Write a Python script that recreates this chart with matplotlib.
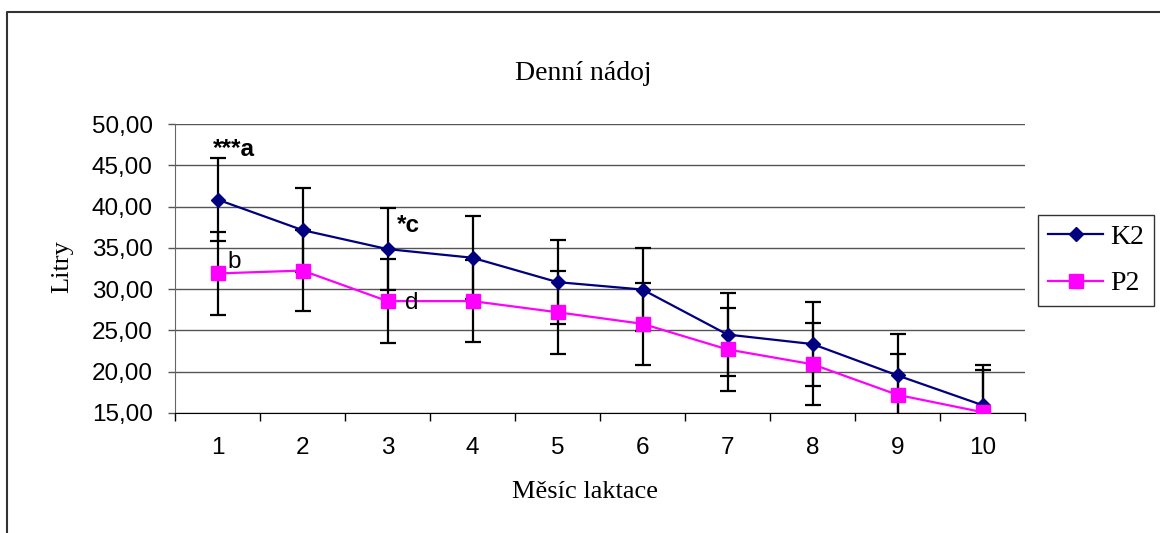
import matplotlib
matplotlib.use('Agg')
import matplotlib.pyplot as plt
from matplotlib.lines import Line2D
from matplotlib.ticker import FuncFormatter

# ---------------------------------------------------------
# DATA
# ---------------------------------------------------------
months = [1, 2, 3, 4, 5, 6, 7, 8, 9, 10]
k2_mean = [40.85, 37.15, 34.85, 33.8, 30.85, 29.95, 24.5, 23.35, 19.55, 15.95]
k2_err = [5.0, 5.05, 4.95, 5.0, 5.05, 5.0, 5.0, 5.05, 5.0, 4.85]
p2_mean = [31.9, 32.25, 28.55, 28.55, 27.2, 25.8, 22.7, 20.9, 17.2, 15.1]
p2_err = [5.05, 4.9, 5.05, 5.0, 5.0, 5.0, 5.05, 4.95, 5.0, 5.1]

# significance marks: (text, x, y, bold)
sig_text = ['***a', '*c', 'b', 'd']
sig_x = [1.19, 3.25, 1.2, 3.28]
sig_y = [46.1, 36.9, 32.6, 27.55]
sig_bold = [True, True, False, False]

title = 'Denní nádoj'
xlabel = 'Měsíc laktace'
ylabel = 'Litry'

# ---------------------------------------------------------
# PLOT
# ---------------------------------------------------------
fig = plt.figure(figsize=(11.6, 5.33), dpi=100)
ax = fig.add_axes([175 / 1160, 120 / 533, 850 / 1160, 289 / 533])

serif = 'Liberation Serif'
sans = 'Liberation Sans'

ax.errorbar(months, k2_mean, yerr=k2_err, fmt='none', ecolor='black',
            elinewidth=1.6, capsize=5.8, capthick=1.6, zorder=2)
ax.errorbar(months, p2_mean, yerr=p2_err, fmt='none', ecolor='black',
            elinewidth=1.6, capsize=5.8, capthick=1.6, zorder=2)
l1, = ax.plot(months, k2_mean, color='#000080', lw=1.6, marker='D',
              markersize=6.8, zorder=3, label='K2')
l2, = ax.plot(months, p2_mean, color='#ff00ff', lw=1.6, marker='s',
              markersize=10.5, zorder=3, label='P2')

for t, x, y, b in zip(sig_text, sig_x, sig_y, sig_bold):
    ax.text(x, y, t, ha='center', va='baseline', fontsize=17.5, family=sans,
            fontweight='bold' if b else 'normal', zorder=4)

ax.set_xlim(0.5, 10.5)
ax.set_ylim(15, 50)
ax.set_yticks(range(15, 51, 5))
ax.yaxis.set_major_formatter(FuncFormatter(lambda v, p: f'{v:.2f}'.replace('.', ',')))
ax.grid(axis='y', color='#555555', lw=1.0, zorder=1)
ax.set_axisbelow(True)

# category ticks between months, labels at month centres
ax.set_xticks([m - 0.5 for m in months] + [months[-1] + 0.5])
ax.set_xticklabels([])
ax.set_xticks(months, minor=True)
ax.set_xticklabels([str(m) for m in months], minor=True)
ax.tick_params(axis='x', which='major', direction='out', length=6, width=1, color='black')
ax.tick_params(axis='x', which='minor', length=0, pad=17)
ax.tick_params(axis='y', direction='out', length=5, width=1, color='#555555', pad=11)
for lab in ax.get_xticklabels(minor=True) + ax.get_yticklabels():
    lab.set_family(sans)
    lab.set_fontsize(17.5)

for s in ['top', 'right']:
    ax.spines[s].set_visible(False)
ax.spines['left'].set_color('#666666')
ax.spines['bottom'].set_color('black')

fig.text(583 / 1160, 1 - 73 / 533, title, ha='center', va='center',
         fontsize=20, family=serif)
fig.text(585 / 1160, 1 - 492 / 533, xlabel, ha='center', va='center',
         fontsize=19, family=serif)
fig.text(62 / 1160, 1 - 267 / 533, ylabel, ha='center', va='center',
         fontsize=19, family=serif, rotation=90)

leg = fig.legend(handles=[l1, l2], loc='upper left',
                 bbox_to_anchor=(1038 / 1160, 1 - 215 / 533),
                 frameon=True, fancybox=False, shadow=False, numpoints=1,
                 handlelength=2.0, handletextpad=0.25, borderpad=0.35,
                 labelspacing=0.75, borderaxespad=0,
                 prop={'family': serif, 'size': 20})
leg.get_frame().set_edgecolor('black')
leg.get_frame().set_linewidth(1.0)

# outer chart border (top and left only visible)
fig.add_artist(Line2D([7 / 1160, 7 / 1160, 1.0], [0.0, 1 - 12 / 533, 1 - 12 / 533],
                      color='#333333', lw=1.5, transform=fig.transFigure))

fig.savefig('out.png', dpi=100)
